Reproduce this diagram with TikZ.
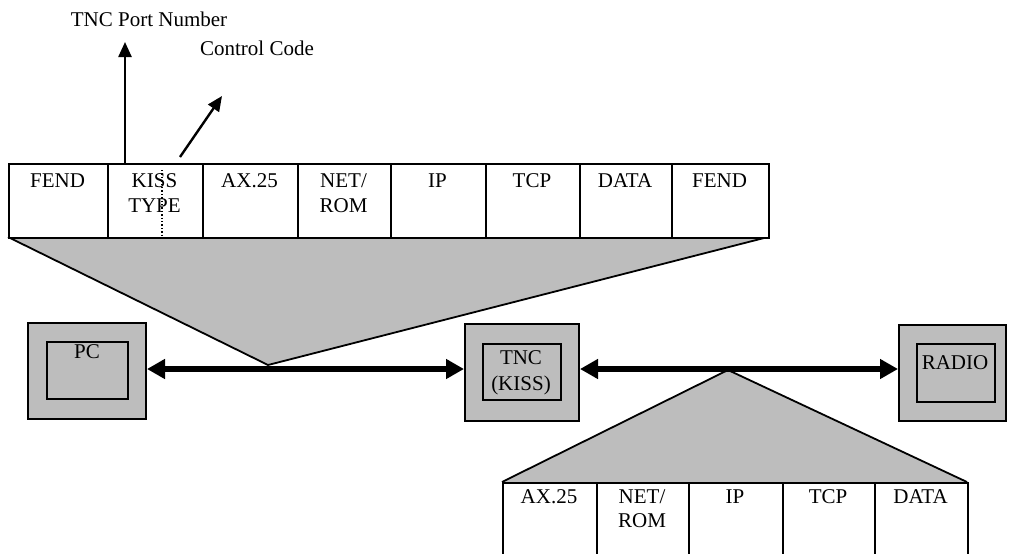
\documentclass[tikz,border=0pt]{standalone}
\usepackage{fontspec}
\setmainfont{Liberation Serif}
\usetikzlibrary{arrows.meta}
\definecolor{halftone}{gray}{0.74}
\begin{document}
\begin{tikzpicture}[x=1pt,y=-1pt,
  cell/.style={draw=black,line width=1.8pt,fill=white,anchor=north west,inner sep=0pt},
  txt/.style={anchor=base,inner sep=0pt,font=\fontsize{21}{24}\selectfont},
  outerbox/.style={draw=black,line width=2pt,fill=halftone,anchor=north west,inner sep=0pt},
  innerbox/.style={draw=black,line width=2pt,fill=halftone,anchor=north west,inner sep=0pt},
  bigarrow/.style={line width=5.5pt,{Triangle[length=18pt,width=19pt]}-{Triangle[length=18pt,width=19pt]}},
  thinarrow/.style={line width=2.4pt,-{Triangle[length=15pt,width=13pt]}}]
\useasboundingbox (0,0) rectangle (1009,554);

% fans
\coordinate (apexA) at (268,365);
\coordinate (apexB) at (728,370);
\coordinate (fanAl) at (8,237);
\coordinate (fanAr) at (768,237);
\coordinate (fanBl) at (502,482);
\coordinate (fanBr) at (967,482);
\fill[halftone] (fanAl) -- (fanAr) -- (apexA) -- cycle;
\draw[line width=1.8pt] (fanAl) -- (apexA) -- (fanAr);
\fill[halftone] (fanBl) -- (fanBr) -- (apexB) -- cycle;
\draw[line width=1.8pt] (fanBl) -- (apexB) -- (fanBr);

% top frame cells
\foreach \n/\a/\b in {c1/8/107,c2/107/202,c3/202/297,c4/297/390,c5/390/485,c6/485/579,c7/579/671,c8/671/768}{
  \node[cell,minimum width={(\b-\a)*1pt},minimum height=74pt] (\n) at (\a,163) {};
}
\node[txt] (t1) at (57.5,187) {FEND};
\node[txt] (t2a) at (154.5,187) {KISS};
\node[txt] (t2b) at (154.5,212) {TYPE};
\node[txt] (t3) at (249.5,187) {AX.25};
\node[txt] (t4a) at (343.5,187) {NET/};
\node[txt] (t4b) at (343.5,212) {ROM};
\node[txt] (t5) at (437.5,187) {IP};
\node[txt] (t6) at (532,187) {TCP};
\node[txt] (t7) at (625,187) {DATA};
\node[txt] (t8) at (719.5,187) {FEND};
\coordinate (dotA) at (162,170);
\coordinate (dotB) at (162,236);
\draw[line width=1.4pt,dotted] (dotA) -- (dotB);

% bottom frame cells
\foreach \n/\a/\b in {d1/502/596,d2/596/688,d3/688/782,d4/782/874,d5/874/967}{
  \node[cell,minimum width={(\b-\a)*1pt},minimum height=80pt] (\n) at (\a,482) {};
}
\node[txt] (u1) at (549,503) {AX.25};
\node[txt] (u2a) at (642,503) {NET/};
\node[txt] (u2b) at (642,527) {ROM};
\node[txt] (u3) at (735,503) {IP};
\node[txt] (u4) at (828,503) {TCP};
\node[txt] (u5) at (920.5,503) {DATA};

% labels and arrows above
\node[txt] (port) at (149,27) {TNC Port Number};
\node[txt] (ctrl) at (257,55) {Control Code};
\coordinate (portfoot) at (125,163);
\coordinate (porttip) at (125,42);
\coordinate (ctrlfoot) at (180,157);
\coordinate (ctrltip) at (222,96);
\draw[thinarrow] (portfoot) -- (porttip);
\draw[thinarrow] (ctrlfoot) -- (ctrltip);

% devices
\node[outerbox,minimum width=118pt,minimum height=96pt] (pco) at (27,322) {};
\node[innerbox,minimum width=81pt,minimum height=57pt] (pci) at (46,341) {};
\node[txt] (pct) at (87,358) {PC};

\node[outerbox,minimum width=114pt,minimum height=97pt] (tnco) at (464,323) {};
\node[innerbox,minimum width=78pt,minimum height=56pt] (tnci) at (482,343) {};
\node[txt] (tnct1) at (521,364) {TNC};
\node[txt] (tnct2) at (521,390) {(KISS)};

\node[outerbox,minimum width=107pt,minimum height=96pt] (rado) at (898,324) {};
\node[innerbox,minimum width=78pt,minimum height=58pt] (radi) at (916,343) {};
\node[txt] (radt) at (955,369) {RADIO};

% links
\draw[bigarrow] ([yshift=2pt]pco.east) -- ([yshift=3.5pt]tnco.west);
\draw[bigarrow] ([yshift=3.5pt]tnco.east) -- ([yshift=4pt]rado.west);
\end{tikzpicture}
\end{document}
